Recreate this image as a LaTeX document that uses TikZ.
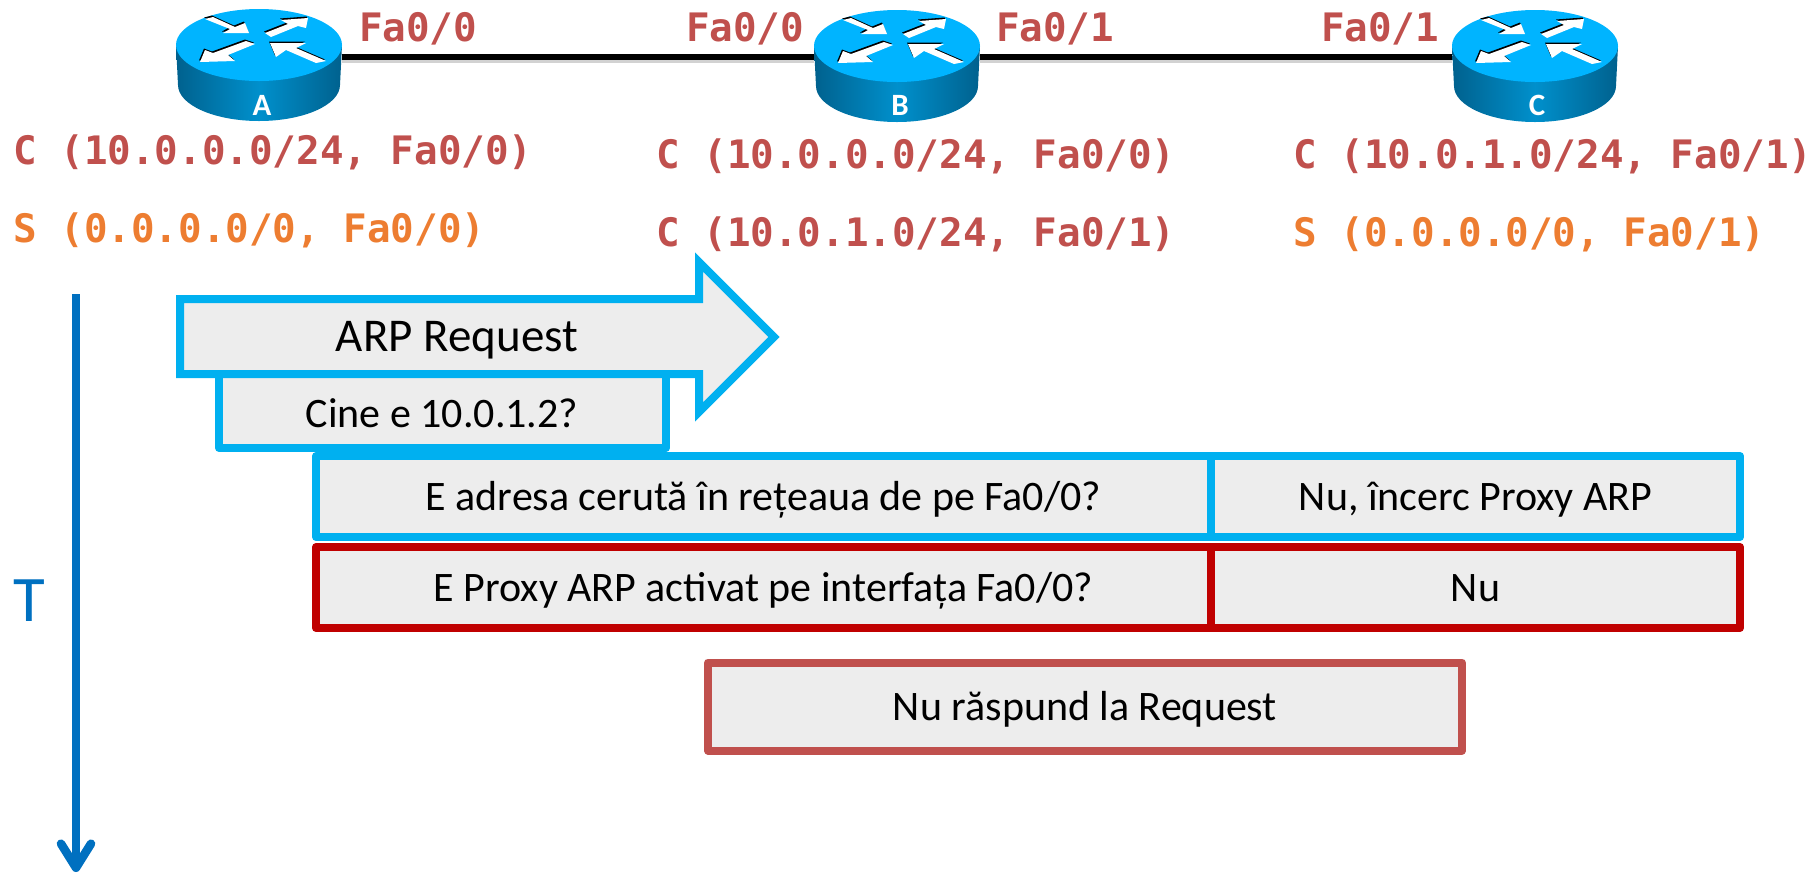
\documentclass[tikz,border=0pt]{standalone}
\usepackage{fontspec}
\setmainfont{Carlito}
\setmonofont{DejaVu Sans Mono}
\usetikzlibrary{arrows.meta}

\definecolor{cyanline}{HTML}{00B0F0}
\definecolor{darkred}{HTML}{C00000}
\definecolor{softred}{HTML}{C0504D}
\definecolor{softorange}{HTML}{ED7D31}
\definecolor{timeblue}{HTML}{0070C0}
\definecolor{boxgray}{HTML}{EDEDED}
\definecolor{routertop}{HTML}{00B4FF}
\definecolor{routeredge}{HTML}{00618E}
\definecolor{routermid}{HTML}{0090CC}

\tikzset{
  stepbox/.style={draw=#1,fill=boxgray,line width=4pt,inner sep=0pt,font=\fontsize{21}{24}\selectfont,line join=round,text height=15.5pt,text depth=1.5pt},
  conntext/.style={text=softred,font=\ttfamily\bfseries\fontsize{19.6}{22}\selectfont,inner sep=0pt,anchor=base west},
  statictext/.style={text=softorange,font=\ttfamily\bfseries\fontsize{19.6}{22}\selectfont,inner sep=0pt,anchor=base west},
  portlabel/.style={text=softred,font=\ttfamily\bfseries\fontsize{19.6}{22}\selectfont,inner sep=0pt,anchor=base},
  routerspot/.style={minimum width=83pt,minimum height=20pt,inner sep=0pt},
  router/.pic={
    \shade[left color=routeredge,right color=routeredge,middle color=routermid]
      (-83,0) -- (-81,40) arc[start angle=180,end angle=0,x radius=81,y radius=36] -- (83,0) -- cycle;
    \fill[routertop] (0,0) ellipse[x radius=83,y radius=36];
    \foreach \dx/\dy/\col in {-1/-1.5/black,0/0/white} {
      \fill[\col,shift={(\dx,\dy)}] (-54,-26) -- (-46,-28) -- (-24,-18) -- (-14,-22) -- (-10,-12) -- (-36,-12) -- (-29,-16) -- cycle;
      \fill[\col,shift={(\dx,\dy)}] (6,-12) -- (29,-21) -- (22,-25) -- (49,-27) -- (47,-17) -- (39,-19) -- (12,-8) -- cycle;
      \fill[\col,shift={(\dx,\dy)}] (-13,-4) -- (-4,-1) -- (-31,10) -- (-24,16) -- (-59,17) -- (-54,5) -- (-46,8) -- cycle;
      \fill[\col,shift={(\dx,\dy)}] (11,-2) -- (47,-2) -- (37,3) -- (67,16) -- (57,18) -- (27,5) -- (17,12) -- cycle;
    }
  }
}

\begin{document}
\begin{tikzpicture}[x=0.5pt,y=-0.5pt]
  \useasboundingbox (0,0) rectangle (1816,874);

  \foreach \name/\xpos in {A/259,B/897,C/1535} {
    \node[routerspot] (router\name) at (\xpos,57) {};
  }
  \draw[gray!35,line width=3pt,transform canvas={yshift=-1.5pt}] (routerA.east) -- (routerB.west);
  \draw[gray!35,line width=3pt,transform canvas={yshift=-1.5pt}] (routerB.east) -- (routerC.west);
  \draw[black,line width=3pt] (routerA.east) -- (routerB.west);
  \draw[black,line width=3pt] (routerB.east) -- (routerC.west);

  \foreach \name/\xpos/\ypos/\lx in {A/259/45/262,B/897/46/900,C/1535/46/1537} {
    \pic at (\xpos,\ypos) {router};
    \node[text=white,inner sep=0pt,font=\bfseries\fontsize{15.5}{18}\selectfont] (label\name) at (\lx,105) {\name};
  }

  \node[portlabel] (portAzero) at (418,41) {Fa0/0};
  \node[portlabel] (portBzero) at (745,41) {Fa0/0};
  \node[portlabel] (portBone) at (1055,41) {Fa0/1};
  \node[portlabel] (portCone) at (1380,41) {Fa0/1};

  \node[conntext] (tableAa) at (13,164) {C (10.0.0.0/24, Fa0/0)};
  \node[statictext] (tableAb) at (13,242) {S (0.0.0.0/0, Fa0/0)};
  \node[conntext] (tableBa) at (656,168) {C (10.0.0.0/24, Fa0/0)};
  \node[conntext] (tableBb) at (656,246) {C (10.0.1.0/24, Fa0/1)};
  \node[conntext] (tableCa) at (1293,168) {C (10.0.1.0/24, Fa0/1)};
  \node[statictext] (tableCb) at (1293,246) {S (0.0.0.0/0, Fa0/1)};

  \coordinate (timetop) at (76,294);
  \coordinate (timebot) at (76,872);
  \draw[timeblue,line width=4.3pt,-{Straight Barb[length=12pt,width=15pt,round]}] (timetop) -- (timebot);
  \node[text=timeblue,inner sep=0pt,font=\fontsize{32.5}{36}\selectfont] (timelabel) at (29,601) {T};

  \node[stepbox=cyanline,minimum width=223.5pt,minimum height=38pt] (whois) at (442.5,410) {};
  \node[inner sep=0pt,font=\fontsize{21}{24}\selectfont] (whoistext) at (442,413) {Cine e 10.0.1.2?};

  \draw[cyanline,fill=boxgray,line width=4pt,miter limit=10]
    (180,299) -- (699,299) -- (699,262) -- (774,337) -- (699,412) -- (699,374) -- (180,374) -- cycle;
  \node[inner sep=0pt,font=\fontsize{23.5}{27}\selectfont] (arpreq) at (457,340) {ARP Request};

  \node[stepbox=cyanline,minimum width=447.5pt,minimum height=40.5pt] (askreq) at (763.5,496.5) {E adresa cerută în rețeaua de pe Fa0/0?};
  \node[stepbox=cyanline,minimum width=264.5pt,minimum height=40.5pt] (ansreq) at (1475.5,496.5) {Nu, încerc Proxy ARP};
  \node[stepbox=darkred,minimum width=447.5pt,minimum height=40.5pt] (askproxy) at (763.5,587.5) {E Proxy ARP activat pe interfața Fa0/0?};
  \node[stepbox=darkred,minimum width=264.5pt,minimum height=40.5pt] (ansproxy) at (1475.5,587.5) {Nu};
  \node[stepbox=softred,minimum width=377pt,minimum height=44pt] (noreply) at (1085,706.5) {Nu răspund la Request};
\end{tikzpicture}
\end{document}
